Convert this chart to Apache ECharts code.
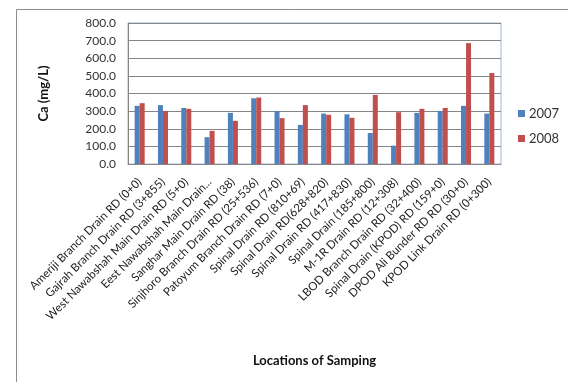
<!DOCTYPE html>
<html>
<head>
<meta charset="utf-8">
<script src="https://cdn.jsdelivr.net/npm/echarts@6/dist/echarts.min.js"></script>
<style>
  html, body { margin: 0; padding: 0; background: #fff; }
  #chart { width: 568px; height: 382px; }
</style>
</head>
<body>
<div id="chart"></div>
<script>
// Sampling locations along the drains
const locations = [
  'Ameriji Branch Drain RD (0+0)',
  'Gajrah Branch Drain RD (3+855)',
  'West Nawabshah Main Drain RD (5+0)',
  'Eest Nawabshah Main Drain...',
  'Sanghar Main Drain RD (38)',
  'Sinjhoro Branch Drain RD (25+536)',
  'Patoyum Branch Drain RD (7+0)',
  'Spinal Drain RD (810+69)',
  'Spinal Drain RD(628+820)',
  'Spinal Drain RD (417+830)',
  'Spinal Drain (185+800)',
  'M-1R Drain RD (12+308)',
  'LBOD Branch Drain RD (32+400)',
  'Spinal Drain (KPOD) RD (159+0)',
  'DPOD Ali Bunder RD RD (30+0)',
  'KPOD Link Drain RD (0+300)'
];

// Calcium concentration (mg/L)
const ca2007 = [330, 334, 318, 152, 290, 373, 301, 222, 286, 282, 176, 104, 290, 301, 330, 286];
const ca2008 = [345, 301, 313, 188, 245, 377, 260, 334, 279, 262, 392, 294, 313, 318, 686, 516];

const font = 'Lato, "Open Sans", sans-serif';

const chart = echarts.init(document.getElementById('chart'), null, { renderer: 'canvas' });
chart.setOption({
  animation: false,
  backgroundColor: '#fff',
  graphic: [{
    type: 'rect',
    left: 14, top: 7,
    shape: { width: 600, height: 420 },
    style: { fill: 'none', stroke: '#8c8c8c', lineWidth: 1 },
    silent: true,
    z: -1
  }],
  grid: {
    left: 128, right: 67, top: 23, bottom: 218,
    show: true, borderColor: '#9db8dc', borderWidth: 1, backgroundColor: 'transparent'
  },
  legend: {
    orient: 'vertical',
    left: 513, top: 102,
    itemWidth: 7, itemHeight: 7, itemGap: 12,
    icon: 'rect',
    textStyle: { fontFamily: font, fontSize: 13, color: '#333', padding: [0, 0, 0, -1] },
    data: ['2007', '2008']
  },
  xAxis: {
    type: 'category',
    data: locations,
    name: 'Locations of Samping',
    nameLocation: 'middle',
    nameGap: 190,
    nameTextStyle: { fontFamily: font, fontSize: 13, fontWeight: 'bold', color: '#111' },
    axisLine: { lineStyle: { color: '#868686' } },
    axisTick: { show: false },
    axisLabel: {
      rotate: 45, interval: 0, margin: 16,
      fontFamily: font, fontSize: 11.5, color: '#222'
    }
  },
  yAxis: {
    type: 'value',
    min: 0, max: 800, interval: 100,
    name: 'Ca (mg/L)',
    nameLocation: 'middle',
    nameGap: 78,
    nameRotate: 90,
    nameTextStyle: { fontFamily: font, fontSize: 13, fontWeight: 'bold', color: '#111' },
    axisLine: { show: true, lineStyle: { color: '#868686' } },
    axisTick: { show: false },
    axisLabel: {
      fontFamily: font, fontSize: 12, color: '#333', margin: 12,
      formatter: v => v.toFixed(1)
    },
    splitLine: { lineStyle: { color: '#868686' } }
  },
  series: [
    {
      name: '2007', type: 'bar', data: ca2007,
      itemStyle: { color: '#4f81bd' },
      barGap: '0%', barCategoryGap: '57%'
    },
    {
      name: '2008', type: 'bar', data: ca2008,
      itemStyle: { color: '#c0504d' },
      barGap: '0%', barCategoryGap: '57%'
    }
  ]
});
</script>
</body>
</html>
